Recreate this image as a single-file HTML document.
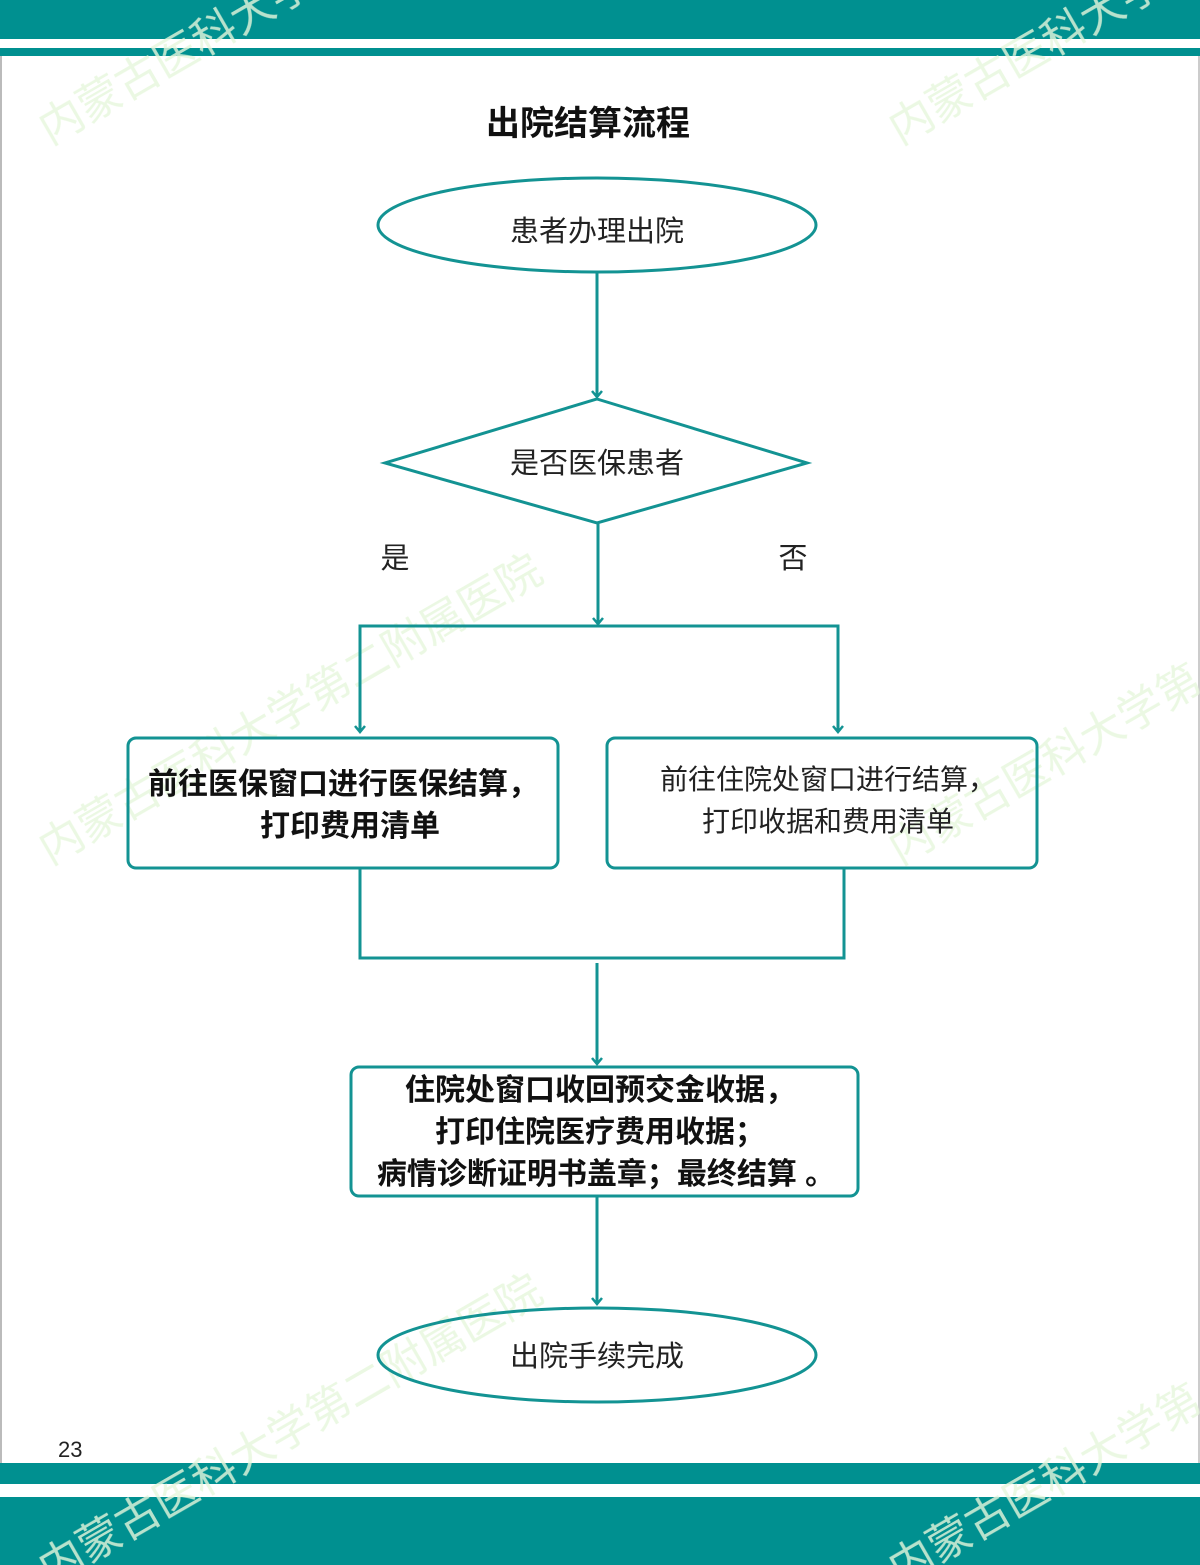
<!DOCTYPE html>
<html><head><meta charset="utf-8"><style>
body{margin:0;width:1200px;height:1565px;overflow:hidden;background:#fff;font-family:"Liberation Sans","Noto Sans CJK SC",sans-serif;}
</style></head><body>
<svg width="1200" height="1565" xmlns="http://www.w3.org/2000/svg" style="position:absolute;left:0;top:0">
<rect x="0" y="0" width="1200" height="39" fill="#009090"/>
<rect x="0" y="48" width="1200" height="8" fill="#009090"/>
<rect x="0" y="1463" width="1200" height="21" fill="#009090"/>
<rect x="0" y="1497" width="1200" height="68" fill="#009090"/>
<line x1="1" y1="56" x2="1" y2="1463" stroke="#bbb" stroke-width="2"/>
<line x1="1199" y1="56" x2="1199" y2="1463" stroke="#ccc" stroke-width="2"/>
<g font-family="Noto Sans CJK SC, sans-serif" font-size="44" fill="#e6f7dc" opacity="0.8">
<text transform="translate(50,145) rotate(-30)">内蒙古医科大学</text>
<text transform="translate(900,145) rotate(-30)">内蒙古医科大学</text>
<text transform="translate(50,865) rotate(-30)">内蒙古医科大学第二附属医院</text>
<text transform="translate(900,865) rotate(-30)">内蒙古医科大学第</text>
<text transform="translate(50,1585) rotate(-30)">内蒙古医科大学第二附属医院</text>
<text transform="translate(900,1585) rotate(-30)">内蒙古医科大学第</text>
</g>
<text x="588" y="135" text-anchor="middle" font-size="34" font-weight="bold" fill="#111">出院结算流程</text>
<g fill="none" stroke="#139393" stroke-width="3">
<ellipse cx="597" cy="225" rx="219" ry="47"/>
<polygon points="597,399 807,463 597,523 385,463"/>
<rect x="128" y="738" width="430" height="130" rx="8"/>
<rect x="607" y="738" width="430" height="130" rx="8"/>
<rect x="351" y="1067" width="507" height="129" rx="8"/>
<ellipse cx="597" cy="1355" rx="219" ry="47"/>
<line x1="597" y1="272" x2="597" y2="397"/>
<line x1="598" y1="523" x2="598" y2="624"/>
<polyline points="360,732 360,626 838,626 838,732"/>
<polyline points="360,868 360,958 844,958 844,868"/>
<line x1="597" y1="963" x2="597" y2="1064"/>
<line x1="597" y1="1196" x2="597" y2="1304"/>
<g stroke-width="2.5">
<polyline points="592,391 597,397 602,391"/>
<polyline points="593,618 598,624 603,618"/>
<polyline points="355,726 360,732 365,726"/>
<polyline points="833,726 838,732 843,726"/>
<polyline points="592,1058 597,1064 602,1058"/>
<polyline points="592,1298 597,1304 602,1298"/>
</g>
</g>
<g font-size="29" fill="#222" text-anchor="middle">
<text x="597" y="241">患者办理出院</text>
<text x="597" y="473">是否医保患者</text>
<text x="395" y="568">是</text>
<text x="793" y="568">否</text>
</g>
<g font-size="28" fill="#222" text-anchor="middle">
<text x="828" y="789">前往住院处窗口进行结算，</text>
<text x="828" y="831">打印收据和费用清单</text>
</g>
<text x="597" y="1366" font-size="29" fill="#222" text-anchor="middle">出院手续完成</text>
<g font-size="30" font-weight="bold" fill="#111" text-anchor="middle">
<text x="343" y="794">前往医保窗口进行医保结算，</text>
<text x="350" y="836">打印费用清单</text>
<text x="600" y="1100">住院处窗口收回预交金收据，</text>
<text x="600" y="1142">打印住院医疗费用收据；</text>
<text x="606" y="1184">病情诊断证明书盖章；最终结算 。</text>
</g>
<text x="58" y="1457" font-size="22" fill="#222">23</text>
</svg>
</body></html>
